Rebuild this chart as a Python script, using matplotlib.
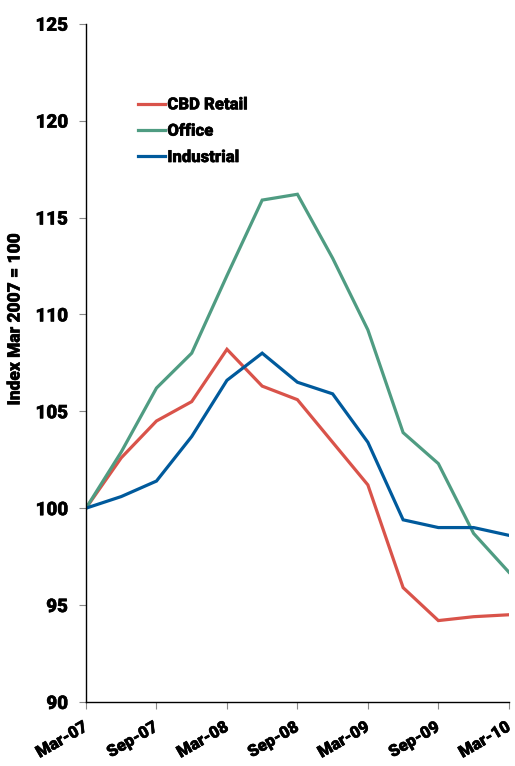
import matplotlib
matplotlib.use("Agg")
import matplotlib.pyplot as plt
import matplotlib.patheffects as pe
from matplotlib import font_manager
from matplotlib.font_manager import FontProperties

# Quarterly index values, Mar-07 = 100
quarters = ["Mar-07", "Jun-07", "Sep-07", "Dec-07", "Mar-08", "Jun-08", "Sep-08",
            "Dec-08", "Mar-09", "Jun-09", "Sep-09", "Dec-09", "Mar-10"]
cbd_retail = [100.0, 102.6, 104.5, 105.5, 108.2, 106.3, 105.6, 103.4, 101.2, 95.9, 94.2, 94.4, 94.5]
office = [100.0, 102.9, 106.2, 108.0, 112.0, 115.9, 116.2, 112.9, 109.2, 103.9, 102.3, 98.7, 96.7]
industrial = [100.0, 100.6, 101.4, 103.7, 106.6, 108.0, 106.5, 105.9, 103.4, 99.4, 99.0, 99.0, 98.6]

tick_labels = ["Mar-07", "Sep-07", "Mar-08", "Sep-08", "Mar-09", "Sep-09", "Mar-10"]
y_ticks = [90, 95, 100, 105, 110, 115, 120, 125]

series_names = ["CBD Retail", "Office", "Industrial"]
colors = ["#D9534A", "#4F9C82", "#005A9C"]

# Heavy sans face for all text
black_path = None
for f in font_manager.fontManager.ttflist:
    if f.fname.endswith("Roboto-Black.ttf"):
        black_path = f.fname
        break


def fp(size):
    if black_path:
        return FontProperties(fname=black_path, size=size)
    return FontProperties(family="DejaVu Sans", weight="bold", size=size)


heavy = [pe.withStroke(linewidth=0.35, foreground="black")]

fig = plt.figure(figsize=(5.15, 7.66), dpi=100)
ax = fig.add_axes([0.167, 0.0836, 0.821, 0.8854])

x = list(range(len(quarters)))
for vals, name, c in zip([cbd_retail, office, industrial], series_names, colors):
    ax.plot(x, vals, color=c, lw=2.3, label=name, solid_joinstyle="miter")

ax.set_xlim(0, len(quarters) - 1)
ax.set_ylim(90, 125)
ax.set_yticks(y_ticks)
ax.set_yticklabels([str(v) for v in y_ticks], fontproperties=fp(13.5))
ax.set_xticks(x[::2])
ax.set_xticklabels(tick_labels, fontproperties=fp(12),
                   rotation=30, ha="right", va="center", rotation_mode="anchor")

for s in ["top", "right"]:
    ax.spines[s].set_visible(False)
for s in ["left", "bottom"]:
    ax.spines[s].set_color("black")
    ax.spines[s].set_linewidth(1.0)

ax.tick_params(axis="y", direction="out", length=5, width=0.8, color="#888888", pad=8)
ax.tick_params(axis="x", direction="out", length=5, width=0.8, color="#888888", pad=12)

ax.set_ylabel("Index Mar 2007 = 100", fontproperties=fp(12.5))
ax.yaxis.set_label_coords(-0.15, 0.565)

leg = ax.legend(loc="upper left", bbox_to_anchor=(0.088, 0.915), frameon=False,
                handlelength=1.6, handletextpad=0.15, labelspacing=0.62,
                prop=fp(12))
for line in leg.get_lines():
    line.set_linewidth(2.3)

texts = ax.get_xticklabels() + ax.get_yticklabels() + leg.get_texts() + [ax.yaxis.label]
for t in texts:
    t.set_path_effects(heavy)

fig.savefig("out.png", dpi=100)
